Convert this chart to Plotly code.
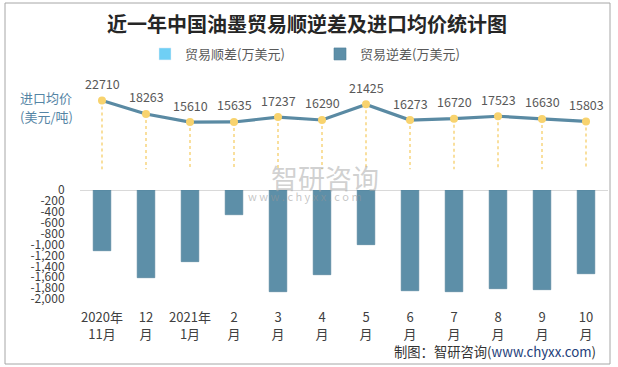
import plotly.graph_objects as go

# ---- data ----
months = ["2020年<br>11月", "12<br>月", "2021年<br>1月", "2<br>月", "3<br>月", "4<br>月",
          "5<br>月", "6<br>月", "7<br>月", "8<br>月", "9<br>月", "10<br>月"]
surplus = [0, 0, 0, 0, 0, 0, 0, 0, 0, 0, 0, 0]
deficit = [-1114, -1609, -1315, -453, -1866, -1554, -1003, -1848, -1866, -1811, -1829, -1536]
price = [22710, 18263, 15610, 15635, 17237, 16290, 21425, 16273, 16720, 17523, 16630, 15803]
ytick_vals = [0, -200, -400, -600, -800, -1000, -1200, -1400, -1600, -1800, -2000]
ytick_text = ["0", "-200", "-400", "-600", "-800", "-1,000", "-1,200", "-1,400", "-1,600", "-1,800", "-2,000"]

W, H = 618, 367
L, R = 80, 10
PW = W - L - R
FONT = "Noto Sans CJK SC"


def px_x(p):
    return (p - L) / PW


def px_y(p):
    return 1 - p / H


fig = go.Figure()

fig.add_trace(go.Bar(x=months, y=surplus, name="贸易顺差(万美元)", marker_color="#6fcff5",
                     width=0.4, yaxis="y"))
fig.add_trace(go.Bar(x=months, y=deficit, name="贸易逆差(万美元)", marker_color="#5d8fa8",
                     marker_line=dict(color="#4f7f98", width=0.6), width=0.4, yaxis="y"))

# drop lines from each price point to zero
dx, dy = [], []
for m, p in zip(months, price):
    dx += [m, m, None]
    dy += [p, 0, None]
fig.add_trace(go.Scatter(x=dx, y=dy, mode="lines", yaxis="y2", showlegend=False,
                         line=dict(color="#f7d57c", width=1.5, dash="dot"), hoverinfo="skip"))

fig.add_trace(go.Scatter(x=months, y=price, mode="lines+markers", yaxis="y2", showlegend=False,
                         line=dict(color="#5a8aa3", width=3.2),
                         marker=dict(color="#f8d36e", size=8)))

for m, p in zip(months, price):
    fig.add_annotation(x=m, y=p, xref="x", yref="y2", text=f"{p}", showarrow=False,
                       yshift=17, font=dict(size=12.5, color="#595959", family=FONT))

# left label for price
fig.add_annotation(xref="paper", yref="paper", x=px_x(18), y=px_y(98), xanchor="left", yanchor="middle",
                   text="进口均价", showarrow=False, font=dict(size=13, color="#5585a5", family=FONT))
fig.add_annotation(xref="paper", yref="paper", x=px_x(18), y=px_y(117), xanchor="left", yanchor="middle",
                   text="(美元/吨)", showarrow=False, font=dict(size=13, color="#5585a5", family=FONT))

# watermark
fig.add_annotation(xref="paper", yref="paper", x=px_x(325), y=px_y(177), text="智研咨询", showarrow=False,
                   font=dict(size=27, color="rgba(170,170,170,0.55)", family=FONT))
fig.add_annotation(xref="paper", yref="paper", x=px_x(305), y=px_y(196), text="w w w . c h y x x . c o m",
                   showarrow=False, font=dict(size=11, color="rgba(150,150,150,0.55)", family=FONT))

# footer
fig.add_annotation(xref="paper", yref="paper", x=px_x(598), y=px_y(351), xanchor="right", yanchor="middle",
                   text="制图：智研咨询(<span style='color:#23407a'>www.chyxx.com</span>)", showarrow=False,
                   font=dict(size=13.3, color="#333333", family=FONT))

# frame
fig.add_shape(type="rect", xref="paper", yref="paper", x0=px_x(5), x1=px_x(610), y0=px_y(364), y1=px_y(3),
              line=dict(color="#a6a6a6", width=1))

fig.update_layout(
    width=W, height=H,
    margin=dict(l=L, r=R, t=0, b=0),
    paper_bgcolor="white", plot_bgcolor="white",
    font=dict(family=FONT, color="#404040"),
    barmode="overlay",
    title=dict(text="<b>近一年中国油墨贸易顺逆差及进口均价统计图</b>", xref="container", yref="container",
               x=307 / W, y=1 - 25 / H, xanchor="center", yanchor="middle",
               font=dict(size=20, color="#262626", family=FONT)),
    showlegend=True,
    legend=dict(orientation="h", x=px_x(145), y=px_y(54), xanchor="left", yanchor="middle",
                entrywidth=130, entrywidthmode="pixels", font=dict(size=13, color="#595959", family=FONT),
                bgcolor="rgba(0,0,0,0)"),
    xaxis=dict(type="category", anchor="y", range=[-0.5, 11.5], showgrid=False, showline=False,
               zeroline=False, ticks="outside", ticklen=6, tickcolor="rgba(0,0,0,0)", automargin=False,
               tickfont=dict(size=13, color="#404040", family=FONT)),
    yaxis=dict(domain=[px_y(299), px_y(190)], range=[-2000, 0], showgrid=False, zeroline=True,
               zerolinecolor="#d9d9d9", zerolinewidth=1.2, showline=False,
               tickvals=ytick_vals, ticktext=ytick_text, ticks="outside", ticklen=12,
               tickcolor="rgba(0,0,0,0)", automargin=False,
               tickfont=dict(size=12, color="#404040", family=FONT)),
    yaxis2=dict(domain=[px_y(169.5), px_y(93.5)], range=[0, 25000], anchor="x", visible=False),
)

fig.write_html("out.html", config={"displayModeBar": False},
               post_script="document.body.style.margin='0';")
